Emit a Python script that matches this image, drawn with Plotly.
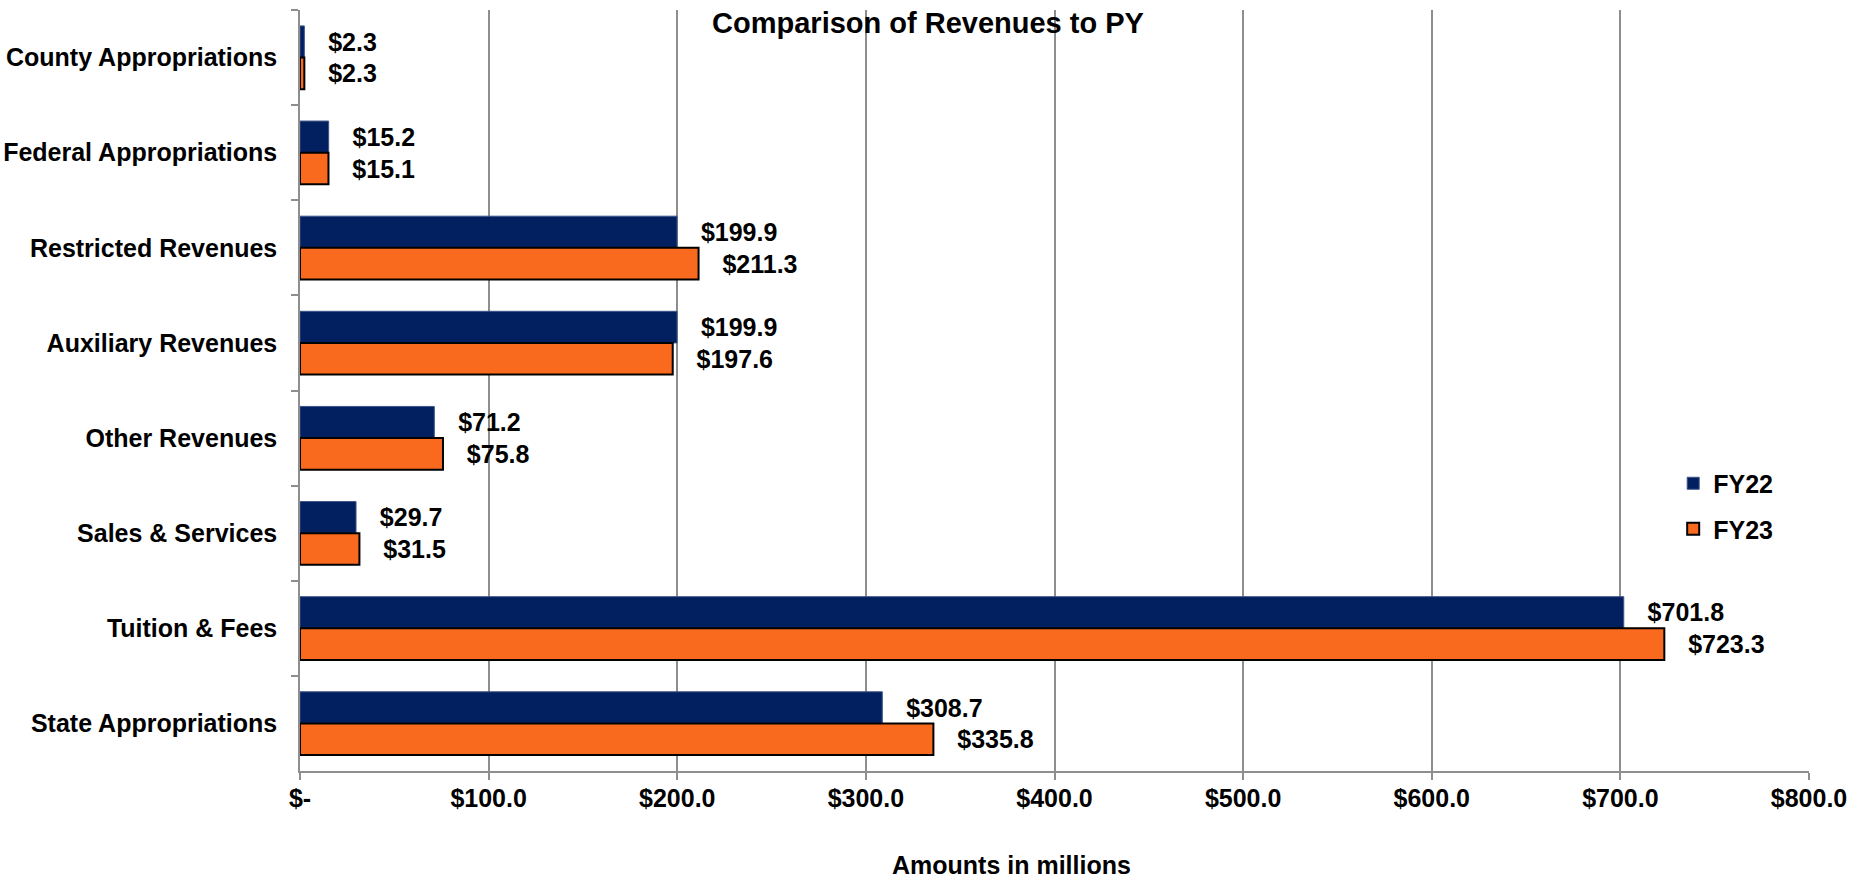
import plotly.graph_objects as go

categories = ["County Appropriations", "Federal Appropriations", "Restricted Revenues",
              "Auxiliary Revenues", "Other Revenues", "Sales & Services",
              "Tuition & Fees", "State Appropriations"]
fy22 = [2.3, 15.2, 199.9, 199.9, 71.2, 29.7, 701.8, 308.7]
fy23 = [2.3, 15.1, 211.3, 197.6, 75.8, 31.5, 723.3, 335.8]
series_names = ["FY22", "FY23"]
x_tickvals = [0, 100, 200, 300, 400, 500, 600, 700, 800]
x_ticktext = ["$-", "$100.0", "$200.0", "$300.0", "$400.0", "$500.0", "$600.0", "$700.0", "$800.0"]

FONT = "Liberation Sans, Arial, sans-serif"
FS = 25
NAVY = "#02205F"
ORANGE = "#F96A1E"
GRID = "#8e8e8e"
PAD = "\u00a0\u00a0\u00a0"

L, R, T, B = 300, 55, 10, 115
W, H = 1864, 886
PW = W - L - R
PH = H - T - B

fig = go.Figure()
fig.add_trace(go.Bar(
    y=categories, x=fy22, orientation="h", name=series_names[0],
    marker=dict(color=NAVY, line=dict(color="#3d5588", width=1)),
    texttemplate=PAD + "$%{x:.1f}", textposition="outside", constraintext="none",
    cliponaxis=False,
    textfont=dict(family=FONT, size=FS, color="black", weight="bold"),
    legendgroup="a", legendrank=1,
))
fig.add_trace(go.Bar(
    y=categories, x=fy23, orientation="h", name=series_names[1],
    marker=dict(color=ORANGE, line=dict(color="black", width=2)),
    texttemplate=PAD + "$%{x:.1f}", textposition="outside", constraintext="none",
    cliponaxis=False,
    textfont=dict(family=FONT, size=FS, color="black", weight="bold"),
    legendgroup="b", legendrank=2,
))

fig.update_layout(
    width=W, height=H,
    margin=dict(l=L, r=R, t=T, b=B),
    paper_bgcolor="white", plot_bgcolor="white",
    font=dict(family=FONT, size=FS, color="black", weight="bold"),
    barmode="group", bargap=0.335, bargroupgap=0,
    title=dict(text="Comparison of Revenues to PY", x=928 / W, xref="container",
               y=1 - 23 / H, yref="container", xanchor="center", yanchor="middle",
               font=dict(family=FONT, size=29, color="black", weight="bold")),
    legend=dict(x=0.910, xanchor="left", y=0.408, yanchor="top",
                traceorder="grouped", tracegroupgap=10,
                font=dict(family=FONT, size=FS, color="black", weight="bold"),
                bgcolor="rgba(0,0,0,0)", itemwidth=30),
    showlegend=True,
    annotations=[dict(text="Amounts in millions", x=(1011 - L) / PW, y=(H - B - 865) / PH,
                      xref="paper", yref="paper", xanchor="center", yanchor="middle",
                      showarrow=False,
                      font=dict(family=FONT, size=FS, color="black", weight="bold"))],
)
fig.update_xaxes(
    range=[0, 800], tickvals=x_tickvals, ticktext=x_ticktext,
    showgrid=True, gridcolor=GRID, gridwidth=1.5,
    showline=True, linecolor=GRID, linewidth=1.5,
    ticks="outside", ticklen=7, tickcolor=GRID, tickwidth=1.5,
    zeroline=False, ticklabelstandoff=-3, automargin=False,
    tickfont=dict(family=FONT, size=FS, color="black", weight="bold"),
)
fig.update_yaxes(
    autorange="reversed", categoryorder="array", categoryarray=categories,
    showgrid=False, showline=True, linecolor=GRID, linewidth=1.5,
    ticks="outside", tickson="boundaries", ticklen=7, tickcolor=GRID, tickwidth=1.5,
    ticklabelstandoff=16, automargin=False,
    tickfont=dict(family=FONT, size=FS, color="black", weight="bold"),
)

fig.write_html("out.html", config={"displayModeBar": False},
               post_script="document.body.style.margin='0px';")
